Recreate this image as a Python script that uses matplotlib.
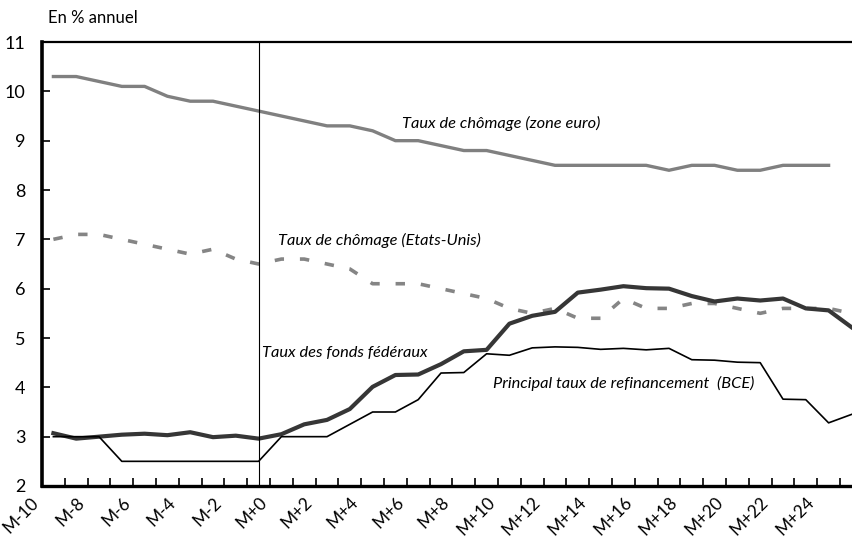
import matplotlib.pyplot as plt
from matplotlib.ticker import FixedLocator, MultipleLocator

# monthly observations, M-10 ... M+25 (36 months)
chomage_euro = [10.3, 10.3, 10.2, 10.1, 10.1, 9.9, 9.8, 9.8, 9.7, 9.6,
                9.5, 9.4, 9.3, 9.3, 9.2, 9.0, 9.0, 8.9, 8.8, 8.8,
                8.7, 8.6, 8.5, 8.5, 8.5, 8.5, 8.5, 8.4, 8.5, 8.5,
                8.4, 8.4, 8.5, 8.5, 8.5]
chomage_us = [7.0, 7.1, 7.1, 7.0, 6.9, 6.8, 6.7, 6.8, 6.6, 6.5,
              6.6, 6.6, 6.5, 6.4, 6.1, 6.1, 6.1, 6.0, 5.9, 5.8,
              5.6, 5.5, 5.6, 5.4, 5.4, 5.8, 5.6, 5.6, 5.7, 5.7,
              5.6, 5.5, 5.6, 5.6, 5.6, 5.5]
fed_funds = [3.07, 2.96, 3.00, 3.04, 3.06, 3.03, 3.09, 2.99, 3.02, 2.96,
             3.05, 3.25, 3.34, 3.56, 4.01, 4.25, 4.26, 4.47, 4.73, 4.76,
             5.29, 5.45, 5.53, 5.92, 5.98, 6.05, 6.01, 6.00, 5.85, 5.74,
             5.80, 5.76, 5.80, 5.60, 5.56, 5.22]
refi_bce = [3.0, 3.0, 3.0, 2.5, 2.5, 2.5, 2.5, 2.5, 2.5, 2.5,
            3.0, 3.0, 3.0, 3.25, 3.5, 3.5, 3.75, 4.29, 4.30, 4.68,
            4.65, 4.80, 4.82, 4.81, 4.77, 4.79, 4.76, 4.79, 4.56, 4.55,
            4.51, 4.50, 3.76, 3.75, 3.28, 3.45]
tick_labels = ["M-10", "M-8", "M-6", "M-4", "M-2", "M+0", "M+2", "M+4", "M+6",
               "M+8", "M+10", "M+12", "M+14", "M+16", "M+18", "M+20", "M+22", "M+24"]
vline_month = 9

plt.rcParams["font.family"] = ["Lato", "DejaVu Sans"]

fig = plt.figure(figsize=(8.52, 5.52), dpi=100)
ax = fig.add_axes([42 / 852, 1 - 486 / 552, 1 - 42 / 852 + 0.01, (486 - 42) / 552])

def pos(values):
    return [i + 0.5 for i in range(len(values))]

ax.plot(pos(chomage_euro), chomage_euro, color="#808080", lw=2.4)
ax.plot(pos(chomage_us), chomage_us, color="#858585", lw=2.6, dashes=(2.6, 4.4))
ax.plot(pos(fed_funds), fed_funds, color="#363636", lw=3.0)
ax.plot(pos(refi_bce), refi_bce, color="black", lw=1.2)
ax.axvline(vline_month + 0.5, color="black", lw=0.8)

ax.set_xlim(0, 35.9)
ax.set_ylim(2, 11)
ax.yaxis.set_major_locator(MultipleLocator(1))
ax.xaxis.set_minor_locator(MultipleLocator(1))
ax.xaxis.set_major_locator(FixedLocator(range(0, 2 * len(tick_labels), 2)))
ax.set_xticklabels(tick_labels, rotation=45, ha="right", fontsize=12.5)
ax.tick_params(axis="y", direction="in", length=6, width=1.2, labelsize=13, pad=12)
ax.tick_params(axis="x", which="both", direction="in", length=6, width=1.2, pad=6)

ax.spines["left"].set_linewidth(2.6)
ax.spines["bottom"].set_linewidth(2.4)
ax.spines["top"].set_linewidth(1.6)
ax.spines["right"].set_visible(False)

fig.text(48 / 852, 1 - 18 / 552, "En % annuel", fontsize=12, va="center")
ann = dict(fontsize=11.8, style="italic", va="center", transform=fig.transFigure)
fig.text(402 / 852, 1 - 123 / 552, "Taux de chômage (zone euro)", **ann)
fig.text(278 / 852, 1 - 240 / 552, "Taux de chômage (Etats-Unis)", **ann)
fig.text(262 / 852, 1 - 353 / 552, "Taux des fonds fédéraux", **ann)
fig.text(493 / 852, 1 - 383 / 552, "Principal taux de refinancement  (BCE)", **ann)

fig.savefig("out.png", dpi=100)
